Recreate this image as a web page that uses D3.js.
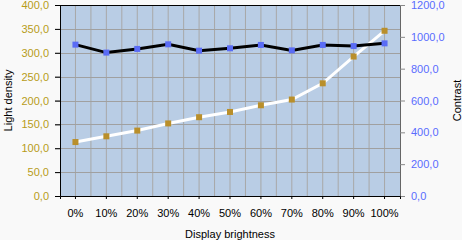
<!DOCTYPE html>
<html>
<head>
<meta charset="utf-8">
<script src="https://cdn.jsdelivr.net/npm/d3@7"></script>
<style>
  body { margin: 0; background: #f9f9f9; }
  svg { display: block; font-family: "Liberation Sans", Arial, sans-serif; }
  .axisText { font-size: 11px; fill: #000; }
</style>
</head>
<body>
<div id="chart"></div>
<script>
// data
var categories = ["0%", "10%", "20%", "30%", "40%", "50%", "60%", "70%", "80%", "90%", "100%"];
var lightDensity = [113, 125, 137, 152, 165, 176, 190, 202, 236, 292, 346];
var contrast = [951, 901, 924, 953, 913, 928, 949, 915, 949, 942, 959];
var leftTicks = [0, 50, 100, 150, 200, 250, 300, 350, 400];
var rightTicks = [0, 200, 400, 600, 800, 1000, 1200];

var svgWidth = 462;
var svgHeight = 240;

var margin = { top: 5, right: 62, bottom: 44, left: 60 };
var width = svgWidth - margin.left - margin.right;
var height = svgHeight - margin.top - margin.bottom;

var svg = d3.select("#chart")
  .append("svg")
  .attr("width", svgWidth)
  .attr("height", svgHeight);

var chartGroup = svg.append("g")
  .attr("transform", `translate(${margin.left}, ${margin.top})`);

var xScale = d3.scaleBand()
  .domain(categories)
  .range([0, width])
  .padding(0);

var yLeft = d3.scaleLinear().domain([0, 400]).range([height, 0]);
var yRight = d3.scaleLinear().domain([0, 1200]).range([height, 0]);

var fmt = v => d3.format(".1f")(v).replace(".", ",");

// plot background
chartGroup.append("rect")
  .attr("width", width)
  .attr("height", height)
  .attr("fill", "#b9cde5");

// vertical grid: band edges and centres
var vLines = [];
categories.forEach(function(c) {
  vLines.push(xScale(c));
  vLines.push(xScale(c) + xScale.bandwidth() / 2);
});
chartGroup.selectAll(".vgrid")
  .data(vLines.slice(1))
  .enter()
  .append("line")
  .attr("x1", d => d).attr("x2", d => d)
  .attr("y1", 0).attr("y2", height)
  .attr("stroke", "#a8a8a8")
  .attr("stroke-width", 1);

// horizontal grid (left axis ticks), running out as tick marks
chartGroup.selectAll(".hgrid")
  .data(leftTicks.slice(1, -1))
  .enter()
  .append("line")
  .attr("x1", -5).attr("x2", width)
  .attr("y1", d => Math.round(yLeft(d)) + 0.5)
  .attr("y2", d => Math.round(yLeft(d)) + 0.5)
  .attr("stroke", "#a0a0a0")
  .attr("stroke-width", 1);

// left axis
var leftAxis = d3.axisLeft(yLeft).tickValues(leftTicks).tickFormat(fmt).tickSize(5).tickPadding(6);
var gl = chartGroup.append("g").call(leftAxis);
gl.select(".domain").attr("stroke", "#000");
gl.selectAll(".tick line").attr("stroke", "#000");
gl.selectAll("text").attr("fill", "#b79c1a").style("font-size", "11px");

// right axis
var rightAxis = d3.axisRight(yRight).tickValues(rightTicks).tickFormat(fmt).tickSize(5).tickPadding(6);
var gr = chartGroup.append("g").attr("transform", `translate(${width}, 0)`).call(rightAxis);
gr.select(".domain").attr("stroke", "#666");
gr.selectAll(".tick line").attr("stroke", "#888");
gr.selectAll("text").attr("fill", "#5a6cff").style("font-size", "11px");

// bottom axis
var bottomAxis = d3.axisBottom(xScale).tickSize(3).tickSizeOuter(3).tickPadding(10);
var gb = chartGroup.append("g").attr("transform", `translate(0, ${height})`).call(bottomAxis);
gb.select(".domain").attr("stroke", "#000");
gb.selectAll(".tick line").attr("stroke", "#000");
gb.selectAll("text").attr("fill", "#000").style("font-size", "11px");

// top border
chartGroup.append("line")
  .attr("x1", 0).attr("x2", width)
  .attr("y1", 0.5).attr("y2", 0.5)
  .attr("stroke", "#000");

var xc = (d, i) => xScale(categories[i]) + xScale.bandwidth() / 2;

// light density line (left axis)
var lineLeft = d3.line().x(xc).y(d => yLeft(d));
chartGroup.append("path")
  .datum(lightDensity)
  .attr("d", lineLeft)
  .attr("fill", "none")
  .attr("stroke", "#ffffff")
  .attr("stroke-width", 3);

// contrast line (right axis)
var lineRight = d3.line().x(xc).y(d => yRight(d));
chartGroup.append("path")
  .datum(contrast)
  .attr("d", lineRight)
  .attr("fill", "none")
  .attr("stroke", "#000000")
  .attr("stroke-width", 3);

chartGroup.selectAll(".ldMark")
  .data(lightDensity)
  .enter()
  .append("rect")
  .attr("x", (d, i) => xc(d, i) - 3)
  .attr("y", d => yLeft(d) - 3)
  .attr("width", 6).attr("height", 6)
  .attr("fill", "#b98f2b");

chartGroup.selectAll(".ctMark")
  .data(contrast)
  .enter()
  .append("rect")
  .attr("x", (d, i) => xc(d, i) - 3)
  .attr("y", d => yRight(d) - 3)
  .attr("width", 6).attr("height", 6)
  .attr("fill", "#5a6cf5");

// axis titles
svg.append("text")
  .attr("transform", `translate(12, ${margin.top + height / 2}) rotate(-90)`)
  .attr("text-anchor", "middle")
  .attr("class", "axisText")
  .text("Light density");

svg.append("text")
  .attr("transform", `translate(461, ${margin.top + height / 2}) rotate(-90)`)
  .attr("text-anchor", "middle")
  .attr("class", "axisText")
  .text("Contrast");

svg.append("text")
  .attr("x", margin.left + width / 2)
  .attr("y", 238)
  .attr("text-anchor", "middle")
  .attr("class", "axisText")
  .text("Display brightness");
</script>
</body>
</html>
